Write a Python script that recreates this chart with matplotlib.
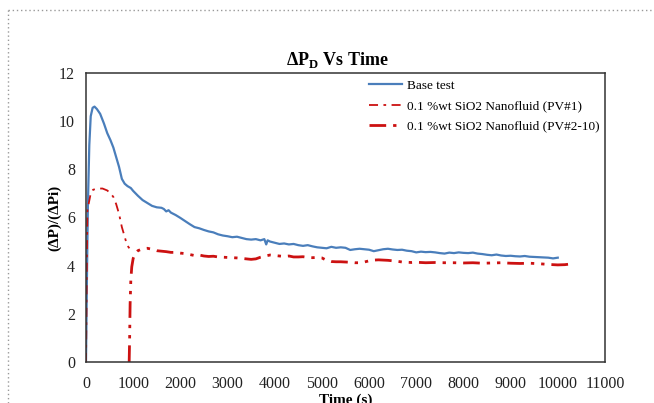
import matplotlib.pyplot as plt
import numpy as np
from matplotlib.lines import Line2D

plt.rcParams['font.family'] = ['Liberation Serif', 'DejaVu Serif']
plt.rcParams['mathtext.fontset'] = 'custom'
plt.rcParams['mathtext.rm'] = 'Liberation Serif'
plt.rcParams['mathtext.bf'] = 'Liberation Serif:bold'

# Base test
base_t = [0, 20, 40, 70, 100, 140, 180, 230, 300, 380, 450, 520, 580, 640, 700, 760, 820, 880, 950,
          1000, 1100, 1200, 1300, 1400, 1500, 1600, 1650, 1700, 1750, 1800, 1900, 2000, 2100, 2200,
          2300, 2400, 2500, 2600, 2700, 2800, 2900, 3000, 3100, 3200, 3300, 3400, 3500, 3600, 3700,
          3780, 3820, 3850, 3900, 4000, 4100, 4200, 4300, 4400, 4500, 4600, 4700, 4800, 4900, 5000,
          5100, 5200, 5300, 5400, 5500, 5600, 5700, 5800, 5900, 6000, 6100, 6200, 6300, 6400, 6500,
          6600, 6700, 6800, 6900, 7000, 7100, 7200, 7300, 7400, 7500, 7600, 7700, 7800, 7900, 8000,
          8100, 8200, 8300, 8400, 8500, 8600, 8700, 8800, 8900, 9000, 9100, 9200, 9300, 9400, 9500,
          9600, 9700, 9800, 9900, 10000]
base_v = [0, 3.5, 6.5, 9.0, 10.2, 10.55, 10.6, 10.5, 10.3, 9.9, 9.5, 9.2, 8.9, 8.5, 8.1, 7.6, 7.4, 7.3, 7.22,
          7.1, 6.9, 6.72, 6.6, 6.48, 6.42, 6.4, 6.35, 6.25, 6.3, 6.2, 6.1, 5.98, 5.85, 5.72,
          5.6, 5.55, 5.48, 5.42, 5.38, 5.3, 5.25, 5.22, 5.18, 5.2, 5.15, 5.1, 5.08, 5.1, 5.05,
          5.1, 4.88, 5.05, 5.0, 4.95, 4.9, 4.92, 4.88, 4.9, 4.85, 4.82, 4.85, 4.8, 4.76, 4.74,
          4.72, 4.78, 4.74, 4.76, 4.74, 4.65, 4.68, 4.7, 4.68, 4.66, 4.6, 4.64, 4.68, 4.7, 4.67,
          4.65, 4.66, 4.62, 4.6, 4.55, 4.58, 4.56, 4.57, 4.55, 4.52, 4.5, 4.54, 4.52, 4.55, 4.53,
          4.52, 4.54, 4.5, 4.48, 4.45, 4.43, 4.46, 4.42, 4.4, 4.41, 4.39, 4.38, 4.4, 4.37, 4.36,
          4.35, 4.34, 4.33, 4.3, 4.33]

# 0.1 %wt SiO2 Nanofluid (PV#1)
pv1_t = [0, 10, 20, 30, 60, 100, 150, 250, 350, 450, 520, 580, 640, 700, 760, 820, 870, 920]
pv1_v = [0, 2.0, 4.5, 6.3, 6.6, 7.0, 7.15, 7.2, 7.2, 7.12, 7.0, 6.85, 6.55, 6.15, 5.6, 5.2, 4.85, 4.72]

# 0.1 %wt SiO2 Nanofluid (PV#2-10)
pv2_t = [915, 925, 935, 950, 970, 1000, 1050, 1100, 1200, 1300, 1400, 1500, 1600, 1700, 1800, 1900,
         2000, 2100, 2200, 2300, 2400, 2500, 2600, 2700, 2800, 2900, 3000, 3100, 3200, 3300, 3400,
         3500, 3600, 3700, 3800, 3900, 4000, 4100, 4200, 4300, 4400, 4500, 4600, 4700, 4800, 4900,
         5000, 5100, 5200, 5300, 5400, 5500, 5600, 5700, 5800, 5900, 6000, 6100, 6200, 6300, 6400,
         6500, 6600, 6700, 6800, 6900, 7000, 7200, 7400, 7600, 7800, 8000, 8200, 8400, 8600, 8800,
         9000, 9200, 9400, 9600, 9800, 10000, 10150, 10320]
pv2_v = [0, 1.0, 2.4, 3.4, 3.95, 4.3, 4.52, 4.62, 4.7, 4.72, 4.68, 4.62, 4.6, 4.58, 4.55, 4.55,
         4.52, 4.5, 4.46, 4.42, 4.44, 4.4, 4.38, 4.39, 4.36, 4.35, 4.34, 4.33, 4.32, 4.3, 4.28,
         4.26, 4.28, 4.35, 4.4, 4.44, 4.42, 4.4, 4.38, 4.4, 4.36, 4.36, 4.37, 4.34, 4.33, 4.34,
         4.32, 4.22, 4.17, 4.16, 4.16, 4.15, 4.14, 4.12, 4.12, 4.15, 4.2, 4.23, 4.24, 4.23, 4.22,
         4.2, 4.18, 4.15, 4.14, 4.13, 4.14, 4.12, 4.13, 4.12, 4.12, 4.11, 4.12, 4.1, 4.11, 4.12,
         4.1, 4.09, 4.1, 4.08, 4.05, 4.03, 4.04, 4.08]

blue = '#4a7ebb'
red = '#cc1111'

fig = plt.figure(figsize=(6.54, 4.03), dpi=100)
ax = fig.add_axes([0.1315, 0.1017, 0.7935, 0.7175])

ax.plot(base_t, base_v, color=blue, lw=1.6, label='Base test')
ax.plot(pv1_t, pv1_v, color=red, lw=1.3, dashes=(5, 3, 1.5, 3), label='0.1 %wt SiO2 Nanofluid (PV#1)')
ax.plot(pv2_t, pv2_v, color=red, lw=2.0, dashes=(6, 2.5, 1.2, 2.5, 1.2, 2.5),
        label='0.1 %wt SiO2 Nanofluid (PV#2-10)')

ax.set_xlim(0, 11000)
ax.set_ylim(0, 12)
ax.set_xticks(np.arange(0, 11001, 1000))
ax.set_yticks(np.arange(0, 13, 2))
ax.tick_params(length=0, labelsize=11.5, colors='#222222')
ax.tick_params(axis='x', pad=10)
ax.tick_params(axis='y', pad=8)
for s in ax.spines.values():
    s.set_color('#333333')
    s.set_linewidth(1.1)

ax.set_title(r'ΔP$_{\mathbf{D}}$ Vs Time', fontsize=13, fontweight='bold', pad=6, x=0.485)
ax.set_xlabel('Time (s)', fontsize=11, fontweight='bold', labelpad=1)
ax.set_ylabel('(ΔP)/(ΔPi)', fontsize=11, fontweight='bold', labelpad=-2)

ax.legend(loc='upper left', bbox_to_anchor=(0.535, 0.995), frameon=False, fontsize=9.5,
          handlelength=2.5, handletextpad=0.35, labelspacing=0.62, borderaxespad=0)

# dotted frame around the figure
fig.add_artist(Line2D([8 / 654, 1], [1 - 10 / 403, 1 - 10 / 403], transform=fig.transFigure,
                      color='#999999', lw=1, linestyle=(0, (1, 2))))
fig.add_artist(Line2D([8 / 654, 8 / 654], [0, 1 - 10 / 403], transform=fig.transFigure,
                      color='#999999', lw=1, linestyle=(0, (1, 2))))

plt.savefig('out.png', dpi=100)
